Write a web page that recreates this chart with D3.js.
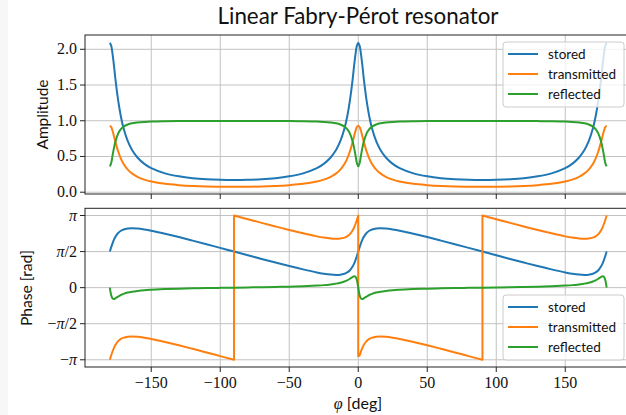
<!DOCTYPE html>
<html>
<head>
<meta charset="utf-8">
<script src="https://cdn.jsdelivr.net/npm/d3@7"></script>
<style>
  body { margin: 0; background: #fff; }
  svg { display: block; }
</style>
</head>
<body>
<svg id="chart" width="626" height="415"></svg>
<script>
'use strict';

// phi in degrees, shared by the amplitude curves and the smooth phase curves
var phi = [-180, -179, -178, -177, -176, -174, -172, -170, -167, -164, -160, -155, -150, -140, -130, -120, -110, -100, -90,
  -80, -70, -60, -50, -40, -30, -25, -20, -16, -13, -10, -8, -6, -4, -3, -2, -1, 0,
  1, 2, 3, 4, 6, 8, 10, 13, 16, 20, 25, 30, 40, 50, 60, 70, 80, 90,
  100, 110, 120, 130, 140, 150, 155, 160, 164, 167, 170, 172, 174, 176, 177, 178, 179, 180];

var ampStored = [2.09, 2.05, 1.93, 1.77, 1.59, 1.29, 1.06, 0.891, 0.714, 0.594, 0.486, 0.397, 0.337, 0.264, 0.222, 0.196, 0.181, 0.173, 0.170,
  0.173, 0.181, 0.196, 0.222, 0.264, 0.337, 0.397, 0.486, 0.594, 0.714, 0.891, 1.06, 1.29, 1.59, 1.77, 1.93, 2.05, 2.09,
  2.05, 1.93, 1.77, 1.59, 1.29, 1.06, 0.891, 0.714, 0.594, 0.486, 0.397, 0.337, 0.264, 0.222, 0.196, 0.181, 0.173, 0.170,
  0.173, 0.181, 0.196, 0.222, 0.264, 0.337, 0.397, 0.486, 0.594, 0.714, 0.891, 1.06, 1.29, 1.59, 1.77, 1.93, 2.05, 2.09];

var ampTransmitted = [0.93, 0.912, 0.856, 0.784, 0.708, 0.573, 0.471, 0.396, 0.317, 0.264, 0.216, 0.176, 0.150, 0.117, 0.099, 0.087, 0.080, 0.077, 0.075,
  0.077, 0.080, 0.087, 0.099, 0.117, 0.150, 0.176, 0.216, 0.264, 0.317, 0.396, 0.471, 0.573, 0.708, 0.784, 0.856, 0.912, 0.93,
  0.912, 0.856, 0.784, 0.708, 0.573, 0.471, 0.396, 0.317, 0.264, 0.216, 0.176, 0.150, 0.117, 0.099, 0.087, 0.080, 0.077, 0.075,
  0.077, 0.080, 0.087, 0.099, 0.117, 0.150, 0.176, 0.216, 0.264, 0.317, 0.396, 0.471, 0.573, 0.708, 0.784, 0.856, 0.912, 0.93];

var ampReflected = [0.362, 0.410, 0.517, 0.621, 0.706, 0.820, 0.882, 0.918, 0.948, 0.965, 0.976, 0.984, 0.989, 0.993, 0.995, 0.996, 0.997, 0.997, 0.997,
  0.997, 0.997, 0.996, 0.995, 0.993, 0.989, 0.984, 0.976, 0.965, 0.948, 0.918, 0.882, 0.820, 0.706, 0.621, 0.517, 0.410, 0.362,
  0.410, 0.517, 0.621, 0.706, 0.820, 0.882, 0.918, 0.948, 0.965, 0.976, 0.984, 0.989, 0.993, 0.995, 0.996, 0.997, 0.997, 0.997,
  0.997, 0.997, 0.996, 0.995, 0.993, 0.989, 0.984, 0.976, 0.965, 0.948, 0.918, 0.882, 0.820, 0.706, 0.621, 0.517, 0.410, 0.362];

// phases in units of pi
var phaseStored = [0.5, 0.562, 0.618, 0.666, 0.704, 0.758, 0.789, 0.807, 0.820, 0.823, 0.819, 0.806, 0.789, 0.747, 0.701, 0.652, 0.602, 0.551, 0.5,
  0.449, 0.398, 0.348, 0.299, 0.253, 0.211, 0.194, 0.181, 0.177, 0.180, 0.193, 0.211, 0.242, 0.296, 0.334, 0.382, 0.438, 0.5,
  0.562, 0.618, 0.666, 0.704, 0.758, 0.789, 0.807, 0.820, 0.823, 0.819, 0.806, 0.789, 0.747, 0.701, 0.652, 0.602, 0.551, 0.5,
  0.449, 0.398, 0.348, 0.299, 0.253, 0.211, 0.194, 0.181, 0.177, 0.180, 0.193, 0.211, 0.242, 0.296, 0.334, 0.382, 0.438, 0.5];

var phaseReflected = [0, -0.106, -0.151, -0.158, -0.149, -0.124, -0.102, -0.086, -0.068, -0.056, -0.045, -0.035, -0.029, -0.020, -0.014, -0.010, -0.006, -0.003, 0,
  0.003, 0.006, 0.010, 0.014, 0.020, 0.029, 0.035, 0.045, 0.056, 0.068, 0.086, 0.102, 0.124, 0.149, 0.158, 0.151, 0.106, 0,
  -0.106, -0.151, -0.158, -0.149, -0.124, -0.102, -0.086, -0.068, -0.056, -0.045, -0.035, -0.029, -0.020, -0.014, -0.010, -0.006, -0.003, 0,
  0.003, 0.006, 0.010, 0.014, 0.020, 0.029, 0.035, 0.045, 0.056, 0.068, 0.086, 0.102, 0.124, 0.149, 0.158, 0.151, 0.106, 0];

// transmitted phase wraps, so it has its own phi list with the jump points repeated
var phiTrans = [-180, -179, -178, -177, -176, -174, -172, -170, -167, -164, -160, -155, -150, -140, -130, -120, -110, -100, -90, -90,
  -80, -70, -60, -50, -40, -30, -25, -20, -16, -13, -10, -8, -6, -4, -3, -2, -1, 0, 0,
  1, 2, 3, 4, 6, 8, 10, 13, 16, 20, 25, 30, 40, 50, 60, 70, 80, 90, 90,
  100, 110, 120, 130, 140, 150, 155, 160, 164, 167, 170, 172, 174, 176, 177, 178, 179, 180];

var phaseTransmitted = [-1, -0.938, -0.882, -0.834, -0.796, -0.742, -0.711, -0.693, -0.680, -0.677, -0.681, -0.694, -0.711, -0.753, -0.799, -0.848, -0.898, -0.949, -1, 1,
  0.949, 0.898, 0.848, 0.799, 0.753, 0.711, 0.694, 0.681, 0.677, 0.680, 0.693, 0.711, 0.742, 0.796, 0.834, 0.882, 0.938, 1, -0.95,
  -0.938, -0.882, -0.834, -0.796, -0.742, -0.711, -0.693, -0.680, -0.677, -0.681, -0.694, -0.711, -0.753, -0.799, -0.848, -0.898, -0.949, -1, 1,
  0.949, 0.898, 0.848, 0.799, 0.753, 0.711, 0.694, 0.681, 0.677, 0.680, 0.693, 0.711, 0.742, 0.796, 0.834, 0.882, 0.938, 1];

var xTicks = [-150, -100, -50, 0, 50, 100, 150];
var ampTicks = [0, 0.5, 1, 1.5, 2];
var ampTickLabels = ['0.0', '0.5', '1.0', '1.5', '2.0'];
var phaseTicks = [-1, -0.5, 0, 0.5, 1];
var phaseTickLabels = ['−π', '−π/2', '0', 'π/2', 'π'];
var names = ['stored', 'transmitted', 'reflected'];
var colors = ['#1f77b4', '#ff7f0e', '#2ca02c'];

var SANS = 'Lato, "Open Sans", sans-serif';
var SERIF = '"Liberation Serif", "DejaVu Serif", serif';

var svg = d3.select('#chart');
svg.append('rect').attr('width', 8).attr('height', 415).attr('fill', '#f7f7f7');

var x = d3.scaleLinear().domain([-198, 198]).range([85, 631.5]);
var yAmp = d3.scaleLinear().domain([-0.025, 2.2]).range([194, 35]);
var yPh = d3.scaleLinear().domain([-1.1, 1.1]).range([367, 208.3]);

function fitWidth(sel, w) {
  var len = sel.node().getComputedTextLength();
  var fs = parseFloat(sel.attr('font-size'));
  sel.attr('font-size', (fs * w / len).toFixed(2));
}

function piLabel(sel, label) {
  label.split(/(π)/).forEach(function (part) {
    if (!part) return;
    var t = sel.append('tspan').text(part);
    if (part === 'π') t.attr('font-style', 'italic');
  });
}

function panel(y, yTicks, yLabels, id) {
  var x0 = x.range()[0], x1 = x.range()[1];
  var yb = y.range()[0], yt = y.range()[1];
  var g = svg.append('g');

  svg.append('clipPath').attr('id', id).append('rect')
    .attr('x', x0).attr('y', yt).attr('width', x1 - x0).attr('height', yb - yt);

  var grid = g.append('g').attr('stroke', '#c2c2c2').attr('stroke-width', 1);
  xTicks.forEach(function (t) {
    grid.append('line').attr('x1', x(t)).attr('x2', x(t)).attr('y1', yt).attr('y2', yb);
  });
  yTicks.forEach(function (t) {
    grid.append('line').attr('x1', x0).attr('x2', x1).attr('y1', y(t)).attr('y2', y(t));
  });

  var plot = g.append('g').attr('clip-path', 'url(#' + id + ')');

  g.append('rect').attr('x', x0).attr('y', yt).attr('width', x1 - x0).attr('height', yb - yt)
    .attr('fill', 'none').attr('stroke', '#222').attr('stroke-width', 1);

  var ticks = g.append('g').attr('stroke', '#222').attr('stroke-width', 1);
  xTicks.forEach(function (t) {
    ticks.append('line').attr('x1', x(t)).attr('x2', x(t)).attr('y1', yb).attr('y2', yb + 5);
  });
  yTicks.forEach(function (t, i) {
    ticks.append('line').attr('x1', x0 - 5).attr('x2', x0).attr('y1', y(t)).attr('y2', y(t));
    var lab = g.append('text').attr('x', x0 - 8).attr('y', y(t) + 5)
      .attr('text-anchor', 'end').attr('font-family', SERIF).attr('font-size', 16).attr('fill', '#111');
    piLabel(lab, yLabels[i]);
  });
  return plot;
}

function drawLine(plot, xs, ys, y, color) {
  var pts = xs.map(function (v, i) { return [x(v), y(ys[i])]; });
  var line = d3.line().curve(d3.curveCatmullRom.alpha(0.5));
  // split at repeated phi values so jumps stay vertical
  var pieces = [[pts[0]]];
  for (var i = 1; i < pts.length; i++) {
    if (xs[i] === xs[i - 1]) pieces.push([]);
    pieces[pieces.length - 1].push(pts[i]);
  }
  var d = pieces.map(function (p, k) {
    var s = line(p);
    return k ? s.replace(/^M/, 'L') : s;
  }).join('');
  plot.append('path').attr('d', d).attr('fill', 'none').attr('stroke', color)
    .attr('stroke-width', 2).attr('stroke-linejoin', 'round');
}

function legend(x0, y0) {
  var g = svg.append('g');
  g.append('rect').attr('x', x0).attr('y', y0).attr('width', 121).attr('height', 65).attr('rx', 3)
    .attr('fill', '#fff').attr('fill-opacity', 0.8).attr('stroke', '#cccccc').attr('stroke-width', 1);
  names.forEach(function (n, i) {
    var cy = y0 + 12 + i * 20;
    g.append('line').attr('x1', x0 + 5).attr('x2', x0 + 35).attr('y1', cy).attr('y2', cy)
      .attr('stroke', colors[i]).attr('stroke-width', 2);
    g.append('text').attr('x', x0 + 45).attr('y', cy + 4.5).attr('font-family', SANS)
      .attr('font-size', 13.5).attr('fill', '#111').text(n);
  });
}

// top panel: amplitude
var ampPlot = panel(yAmp, ampTicks, ampTickLabels, 'clipAmp');
drawLine(ampPlot, phi, ampStored, yAmp, colors[0]);
drawLine(ampPlot, phi, ampTransmitted, yAmp, colors[1]);
drawLine(ampPlot, phi, ampReflected, yAmp, colors[2]);
legend(503, 42);

// bottom panel: phase
var phPlot = panel(yPh, phaseTicks, phaseTickLabels, 'clipPh');
drawLine(phPlot, phi, phaseStored, yPh, colors[0]);
drawLine(phPlot, phiTrans, phaseTransmitted, yPh, colors[1]);
drawLine(phPlot, phi, phaseReflected, yPh, colors[2]);
legend(503, 295);

xTicks.forEach(function (t) {
  svg.append('text').attr('x', x(t)).attr('y', 388).attr('text-anchor', 'middle')
    .attr('font-family', SERIF).attr('font-size', 16).attr('fill', '#111')
    .text(t < 0 ? '−' + Math.abs(t) : String(t));
});

var title = svg.append('text').attr('x', 358).attr('y', 24).attr('text-anchor', 'middle')
  .attr('font-family', SANS).attr('font-size', 19).attr('fill', '#111')
  .text('Linear Fabry-Pérot resonator');
fitWidth(title, 281);

var ylab1 = svg.append('text').attr('transform', 'translate(48,114.5) rotate(-90)')
  .attr('text-anchor', 'middle').attr('font-family', SANS).attr('font-size', 16).attr('fill', '#111')
  .text('Amplitude');
fitWidth(ylab1, 70);

var ylab2 = svg.append('text').attr('transform', 'translate(32,288) rotate(-90)')
  .attr('text-anchor', 'middle').attr('font-family', SANS).attr('font-size', 16).attr('fill', '#111')
  .text('Phase [rad]');
fitWidth(ylab2, 76);

var xlab = svg.append('text').attr('x', 358).attr('y', 409).attr('text-anchor', 'middle')
  .attr('font-size', 16).attr('fill', '#111');
xlab.append('tspan').attr('font-family', SERIF).attr('font-style', 'italic').text('φ');
xlab.append('tspan').attr('font-family', SANS).text(' [deg]');
</script>
</body>
</html>
